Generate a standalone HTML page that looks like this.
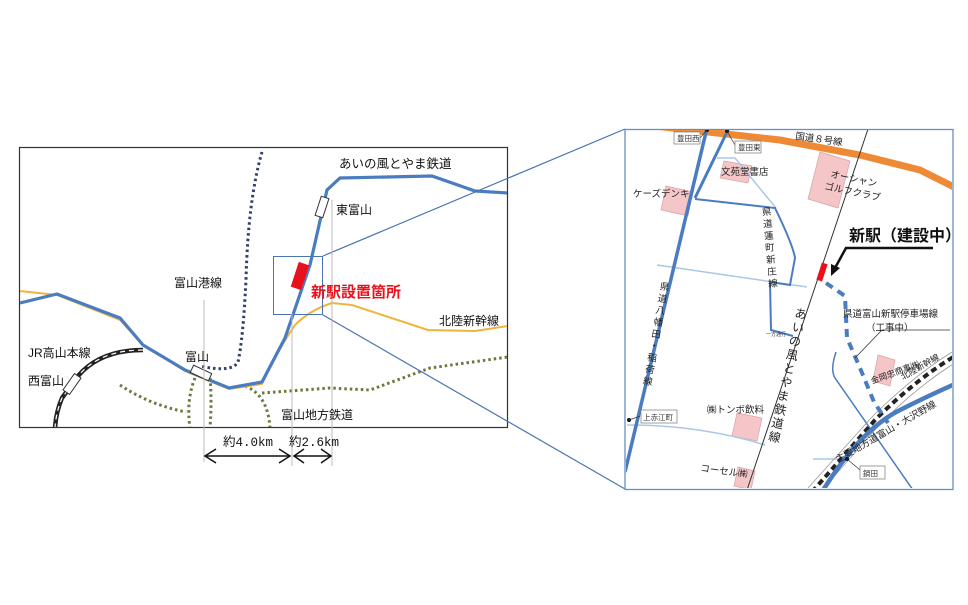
<!DOCTYPE html>
<html><head><meta charset="utf-8"><style>
html,body{margin:0;padding:0;background:#fff;}
svg{display:block;font-family:"Liberation Sans","Noto Sans CJK JP",sans-serif;}
</style></head><body>
<svg width="968" height="605" viewBox="0 0 968 605" xmlns="http://www.w3.org/2000/svg">
<rect width="968" height="605" fill="#fff"/>
<!-- LEFT MAP -->
<rect x="19.5" y="147.5" width="488" height="280" fill="#fff" stroke="#333" stroke-width="1.2"/>
<clipPath id="cl"><rect x="20" y="148" width="487" height="279"/></clipPath>
<g clip-path="url(#cl)" fill="none">
 <!-- green dotted -->
 <g stroke="#6b7a3c" stroke-width="3" stroke-dasharray="2.5 3">
  <path d="M120,385 Q150,405 186,412"/>
  <path d="M195,378 Q186,400 190,428"/>
  <path d="M210,378 Q212,400 210,428"/>
  <path d="M245,386 Q268,395 270,428"/>
  <path d="M262,393 L330,388 L370,390 L430,368 L508,357"/>
 </g>
 <!-- navy dotted -->
 <path d="M262,152 Q248,200 246,280 Q243,340 238,362 Q232,373 200,366" stroke="#2f3f6e" stroke-width="3" stroke-dasharray="2.5 3"/>
 <!-- yellow -->
 <path d="M20,291 L57,295 L120,320 L143,345 L185,371 L229,389 L262,384 Q278,350 295,325 Q310,310 332,303 L352,305 L428,330 L475,331 L508,326" stroke="#f0b43c" stroke-width="2"/>
 <!-- black JR -->
 <path d="M143,350 Q100,350 78,376 L62,398 Q56,412 55,428" stroke="#222" stroke-width="4.5"/>
 <path d="M143,350 Q100,350 78,376 L62,398 Q56,412 55,428" stroke="#fff" stroke-width="1.2" stroke-dasharray="5 4"/>
 <!-- blue ainokaze -->
 <path d="M20,303 L57,294 L120,318 L143,345 L185,370 L229,388 L262,382 L285,338 L310,265 L327,190 L340,178 L432,176 L475,191 L508,193" stroke="#4a7cc0" stroke-width="3.2"/>
 <!-- stations -->
 <rect x="-10" y="-4" width="20" height="8" fill="#fff" stroke="#333" transform="translate(201,373) rotate(25)"/>
 <rect x="-10" y="-4" width="20" height="8" fill="#fff" stroke="#333" transform="translate(72,384) rotate(-55)"/>
 <rect x="-10" y="-4" width="20" height="8" fill="#fff" stroke="#333" transform="translate(322,207) rotate(-72)"/>
 <rect x="-5.5" y="-13" width="11" height="26" fill="#e8121c" transform="translate(300,276) rotate(18)"/>
</g>
<!-- callout box -->
<rect x="273.5" y="256.5" width="49" height="58" fill="none" stroke="#4a74b0" stroke-width="1"/>
<line x1="323" y1="256" x2="625" y2="129" stroke="#4a74b0" stroke-width="1.2"/>
<line x1="323" y1="315" x2="625" y2="489" stroke="#4a74b0" stroke-width="1.2"/>
<!-- dimension lines -->
<g stroke="#bbb" stroke-width="1"><line x1="204" y1="300" x2="204" y2="462"/><line x1="292" y1="313" x2="292" y2="466"/><line x1="332" y1="200" x2="332" y2="466"/></g>
<g stroke="#111" stroke-width="1.5" fill="none">
 <line x1="205" y1="456" x2="290" y2="456"/><path d="M216,449 L205,456 L216,463"/><path d="M279,449 L290,456 L279,463"/>
 <line x1="294" y1="456" x2="331" y2="456"/><path d="M304,449 L294,456 L304,463"/><path d="M321,449 L331,456 L321,463"/>
</g>
<g font-size="12" fill="#111">
 <text x="339" y="168" font-size="12.5">あいの風とやま鉄道</text>
 <text x="336" y="214">東富山</text>
 <text x="174" y="287">富山港線</text>
 <text x="439" y="325">北陸新幹線</text>
 <text x="28" y="357">JR高山本線</text>
 <text x="185" y="361">富山</text>
 <text x="28" y="385">西富山</text>
 <text x="281" y="419">富山地方鉄道</text>
 <text x="223" y="446" font-family="Liberation Mono,'Noto Sans CJK JP',monospace" font-size="12.5">約4.0km</text>
 <text x="289" y="446" font-family="Liberation Mono,'Noto Sans CJK JP',monospace" font-size="12.5">約2.6km</text>
</g>
<text x="311" y="297" font-size="15" font-weight="bold" fill="#e8121c">新駅設置箇所</text>

<!-- RIGHT MAP -->
<rect x="625" y="129.5" width="328" height="360" fill="#fff" stroke="#6a8fbf" stroke-width="1.3"/>
<clipPath id="cr"><rect x="626" y="130" width="326" height="358"/></clipPath>
<g clip-path="url(#cr)" fill="none">
 <!-- pink boxes -->
 <g fill="#f5c6c8" stroke="#d9a0a4" stroke-width="0.7">
  <polygon points="724,161 752,166 748,183 720,178"/>
  <polygon points="666,186 693,192 688,216 661,210"/>
  <polygon points="820,152 850,161 838,208 808,199"/>
  <polygon points="878,355 895,360 890,386 873,381"/>
  <polygon points="737,413 762,418 757,441 732,436"/>
  <polygon points="738,467 755,471 751,490 734,486"/>
 </g>
 <path d="M620,122 L690,130 L780,140 L860,155 L920,170 L960,190" stroke="#ee8a36" stroke-width="7"/>
 <!-- light blue -->
 <g stroke="#a9c8e6" stroke-width="1.5">
  <path d="M657,265 L807,287"/>
  <path d="M717,158 L735,158 L776,208"/>
  <path d="M627,425 Q700,425 765,445"/>
  <path d="M813,459 L840,459"/>
 </g>
 <!-- thick blue roads -->
 <path d="M625,472 L707,128" stroke="#4a7cc0" stroke-width="3.5"/>
 <path d="M695,198 L728,130" stroke="#4a7cc0" stroke-width="3"/>
 <path d="M695,199 L775,208 Q793,245 795,258 L790,285 L770,282 L771,330 L793,336" stroke="#4a7cc0" stroke-width="2"/>
 <path d="M835,378 Q830,370 836,352 M835,378 L913,490" stroke="#4a7cc0" stroke-width="1.5"/>
 <!-- ainokaze thin -->
 <line x1="868" y1="129" x2="747" y2="490" stroke="#333" stroke-width="1"/>
 <!-- shinkansen -->
 <path d="M812,492 L875,420 Q915,380 955,356" stroke="#222" stroke-width="4" stroke-dasharray="6 4"/>
 <path d="M808,488 L872,417 Q912,377 952,352 M817,496 L880,424 Q920,384 958,361" stroke="#999" stroke-width="0.8"/>
 <!-- regional rail -->
 <path d="M822,492 Q860,430 900,410 Q930,395 955,384" stroke="#4a7cc0" stroke-width="4.5"/>
 <!-- dashed new road -->
 <path d="M826,283 L845,296 L847,338 L860,368 L874,402 L888,423" stroke="#4a7cc0" stroke-width="4" stroke-dasharray="8 6"/>
 <!-- leader -->
 <path d="M950,330 L882,330 L855,358" stroke="#333" stroke-width="0.8"/>
 <!-- red station -->
 <rect x="-3" y="-9" width="6" height="18" fill="#e8121c" transform="translate(822,272) rotate(18)"/>
 <!-- arrow -->
 <path d="M933,248 L846,248 L835,268" stroke="#111" stroke-width="2.5"/>
 <polygon points="831,276 831,264 840,268" fill="#111"/>
 <!-- dots and small labels -->
 <g fill="#111"><circle cx="707" cy="130" r="2"/><circle cx="727" cy="131" r="2"/><circle cx="629" cy="420" r="2"/><circle cx="847" cy="459" r="2"/></g>
 <g stroke="#333" stroke-width="0.7"><path d="M707,130 L700,138"/><path d="M727,131 L735,145"/><path d="M629,420 L640,416"/><path d="M847,459 L860,470"/></g>
 <g fill="#fff" stroke="#777" stroke-width="0.7">
  <rect x="674" y="132" width="26" height="12"/><rect x="735" y="141" width="26" height="12"/>
  <rect x="641" y="410" width="36" height="13"/><rect x="860" y="466" width="25" height="13"/>
 </g>
 <g font-size="7.5" fill="#333">
  <text x="677" y="141">豊田西</text><text x="738" y="150">豊田東</text>
  <text x="643" y="420">上赤江町</text><text x="863" y="476">鍋田</text>
 </g>
 <g font-size="9.5" fill="#222">
  <text x="721" y="175">文苑堂書店</text>
  <text x="633" y="197">ケーズデンキ</text>
  <text x="707" y="413">㈱トンボ飲料</text>
  <text x="700" y="471" transform="rotate(8 700 471)">コーセル㈱</text>
  <text x="830" y="177" transform="rotate(12 830 177)">オーシャン</text>
  <text x="824" y="189" transform="rotate(12 824 189)">ゴルフクラブ</text>
  <text x="795" y="139" transform="rotate(8 795 139)">国道８号線</text>
  <text x="872" y="384" transform="rotate(-20 872 384)" font-size="8.5">金岡忠商事㈱</text>
  <text x="903" y="380" transform="rotate(-30 903 380)" font-size="8.5">北陸新幹線</text>
  <text x="838" y="463" transform="rotate(-30 838 463)">主要地方道富山・大沢野線</text>
  <text x="843" y="317">県道富山新駅停車場線</text>
  <text x="866" y="331">（工事中）</text>
 </g>
 <!-- vertical labels -->
 <g font-size="9.5" fill="#222" text-anchor="middle">
  <g transform="translate(664,290) rotate(10)"><text y="0">県</text><text y="12">道</text><text y="24">八</text><text y="36">幡</text><text y="48">田</text><text y="60">・</text><text y="72">稲</text><text y="84">荷</text><text y="96">線</text></g>
  <g transform="translate(767,215) rotate(-5)"><text y="0">県</text><text y="12">道</text><text y="24">蓮</text><text y="36">町</text><text y="48">新</text><text y="60">庄</text><text y="72">線</text></g>
  <g transform="translate(800,318) rotate(12)" font-size="12"><text y="0">あ</text><text y="14">い</text><text y="28">の</text><text y="42">風</text><text y="56">と</text><text y="70">や</text><text y="84">ま</text><text y="98">鉄</text><text y="112">道</text><text y="126">線</text></g>
 </g>
 <text x="766" y="336" font-size="5" fill="#333">一方通行</text>
</g>
<text x="849" y="241" font-size="16" font-weight="bold" fill="#111">新駅（建設中）</text>
</svg>
</body></html>
